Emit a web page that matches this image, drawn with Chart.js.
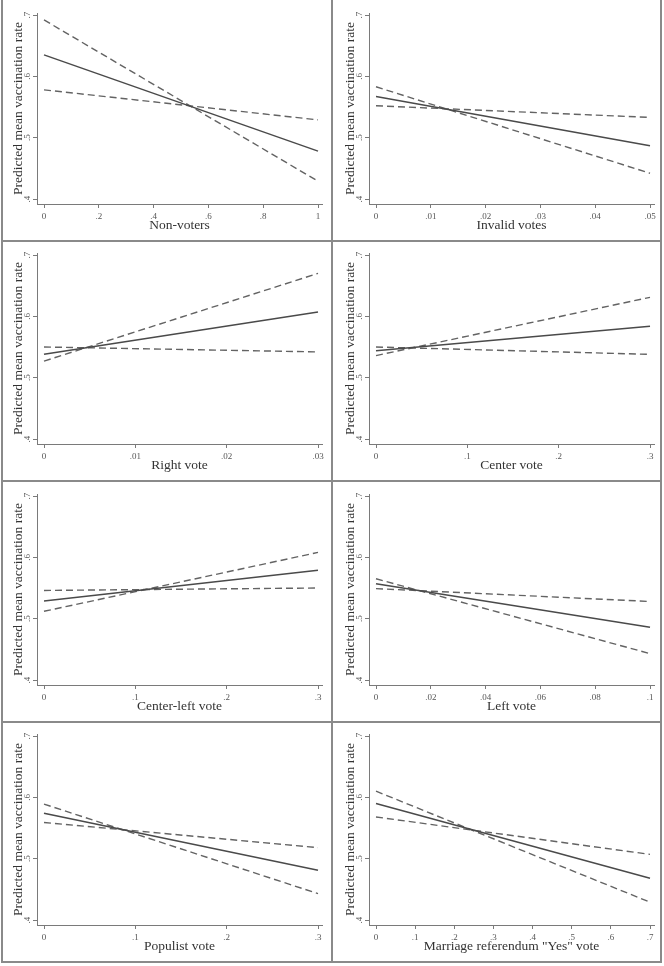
<!DOCTYPE html>
<html>
<head>
<meta charset="utf-8">
<script src="https://cdn.jsdelivr.net/npm/chart.js@4.4.1/dist/chart.umd.min.js"></script>
<style>
  html, body { margin: 0; padding: 0; background: #fff; }
  #wrap { position: relative; width: 664px; height: 966px; overflow: hidden; background: #fff; }
  .pc { position: absolute; width: 330px; height: 240px; }
  .ln { position: absolute; background: #8a8a8a; z-index: 5; }
</style>
</head>
<body>
<div id="wrap"></div>
<script>
// ---------- data ----------
const xTitles = ["Non-voters", "Invalid votes", "Right vote", "Center vote",
                 "Center-left vote", "Left vote", "Populist vote", 'Marriage referendum "Yes" vote'];
const xMax = [1, 0.05, 0.03, 0.3, 0.3, 0.1, 0.3, 0.7];
const xTickValues = [
  [0, 0.2, 0.4, 0.6, 0.8, 1],
  [0, 0.01, 0.02, 0.03, 0.04, 0.05],
  [0, 0.01, 0.02, 0.03],
  [0, 0.1, 0.2, 0.3],
  [0, 0.1, 0.2, 0.3],
  [0, 0.02, 0.04, 0.06, 0.08, 0.1],
  [0, 0.1, 0.2, 0.3],
  [0, 0.1, 0.2, 0.3, 0.4, 0.5, 0.6, 0.7]
];
const xTickLabels = [
  ["0", ".2", ".4", ".6", ".8", "1"],
  ["0", ".01", ".02", ".03", ".04", ".05"],
  ["0", ".01", ".02", ".03"],
  ["0", ".1", ".2", ".3"],
  ["0", ".1", ".2", ".3"],
  ["0", ".02", ".04", ".06", ".08", ".1"],
  ["0", ".1", ".2", ".3"],
  ["0", ".1", ".2", ".3", ".4", ".5", ".6", ".7"]
];
const yTitle = "Predicted mean vaccination rate";
const yTickValues = [0.4, 0.5, 0.6, 0.7];
const yTickLabels = [".4", ".5", ".6", ".7"];
// values at x = 0 and x = max
const predicted = [[0.635, 0.478], [0.567, 0.487], [0.538, 0.607], [0.544, 0.584],
                   [0.529, 0.579], [0.557, 0.486], [0.574, 0.481], [0.590, 0.468]];
const ciSteep   = [[0.692, 0.429], [0.583, 0.442], [0.527, 0.670], [0.536, 0.631],
                   [0.512, 0.608], [0.565, 0.443], [0.589, 0.443], [0.610, 0.429]];
const ciFlat    = [[0.578, 0.529], [0.552, 0.533], [0.550, 0.542], [0.550, 0.538],
                   [0.546, 0.550], [0.549, 0.528], [0.559, 0.518], [0.568, 0.507]];

// ---------- layout ----------
const FONT = "'Liberation Serif', 'Times New Roman', serif";
const colLeft = [0, 332];
const rowTop = [0, 240, 481, 721];
const wrap = document.getElementById('wrap');

function line(l, t, w, h) {
  const d = document.createElement('div');
  d.className = 'ln';
  d.style.left = l + 'px'; d.style.top = t + 'px';
  d.style.width = w + 'px'; d.style.height = h + 'px';
  wrap.appendChild(d);
}

for (let i = 0; i < 8; i++) {
  const c = i % 2, r = Math.floor(i / 2);
  const cv = document.createElement('canvas');
  cv.className = 'pc';
  cv.style.left = colLeft[c] + 'px';
  cv.style.top = rowTop[r] + 'px';
  cv.width = 330; cv.height = 240;
  wrap.appendChild(cv);

  const xm = xMax[i];
  const xs = [0, xm];
  const mk = (arr) => xs.map((x, k) => ({ x: x, y: arr[i][k] }));

  new Chart(cv, {
    type: 'line',
    data: {
      datasets: [
        { data: mk(predicted), borderColor: '#4a4a4a', borderWidth: 1.5, pointRadius: 0, tension: 0 },
        { data: mk(ciSteep), borderColor: '#636363', borderWidth: 1.4, borderDash: [7, 4], pointRadius: 0, tension: 0 },
        { data: mk(ciFlat), borderColor: '#636363', borderWidth: 1.4, borderDash: [7, 4], pointRadius: 0, tension: 0 }
      ]
    },
    options: {
      responsive: false,
      animation: false,
      devicePixelRatio: 1,
      layout: { padding: { left: 0, top: 13, right: 8, bottom: 0 } },
      plugins: { legend: { display: false }, tooltip: { enabled: false } },
      scales: {
        x: {
          type: 'linear',
          min: -xm * 7 / 274,
          max: xm * (1 + 4 / 274),
          afterBuildTicks: (s) => { s.ticks = xTickValues[i].map(v => ({ value: v })); },
          afterFit: (s) => { s.height = 36; },
          border: { display: true, color: '#7a7a7a', width: 1 },
          grid: { drawOnChartArea: false, drawTicks: true, tickLength: 4, color: '#7a7a7a', lineWidth: 1 },
          ticks: {
            autoSkip: false, maxRotation: 0, minRotation: 0, padding: 3,
            color: '#555', font: { family: FONT, size: 9 },
            callback: (v, idx) => xTickLabels[i][idx]
          },
          title: {
            display: true, text: xTitles[i], color: '#333',
            font: { family: FONT, size: 13.5 }, padding: { top: 0, bottom: 6 }
          }
        },
        y: {
          type: 'linear',
          min: 0.4 - 5 * 0.3 / 184,
          max: 0.7 + 2 * 0.3 / 184,
          afterBuildTicks: (s) => { s.ticks = yTickValues.map(v => ({ value: v })); },
          afterFit: (s) => { s.width = 37; },
          border: { display: true, color: '#7a7a7a', width: 1 },
          grid: { drawOnChartArea: false, drawTicks: true, tickLength: 4, color: '#7a7a7a', lineWidth: 1 },
          ticks: {
            autoSkip: false, minRotation: 90, maxRotation: 90, padding: 2, crossAlign: 'center',
            color: '#555', font: { family: FONT, size: 9 },
            callback: (v, idx) => yTickLabels[idx]
          },
          title: {
            display: true, text: yTitle, color: '#333',
            font: { family: FONT, size: 13.5 }, padding: { top: 10, bottom: 0 }
          }
        }
      }
    }
  });
}

// panel frame lines
line(1, 0, 2, 963);       // left edge
line(331, 0, 2, 963);     // middle divider
line(660, 0, 2, 963);     // right edge
line(1, 240, 661, 2);
line(1, 480, 661, 2);
line(1, 721, 661, 2);
line(1, 961, 661, 2);     // bottom edge
</script>
</body>
</html>
